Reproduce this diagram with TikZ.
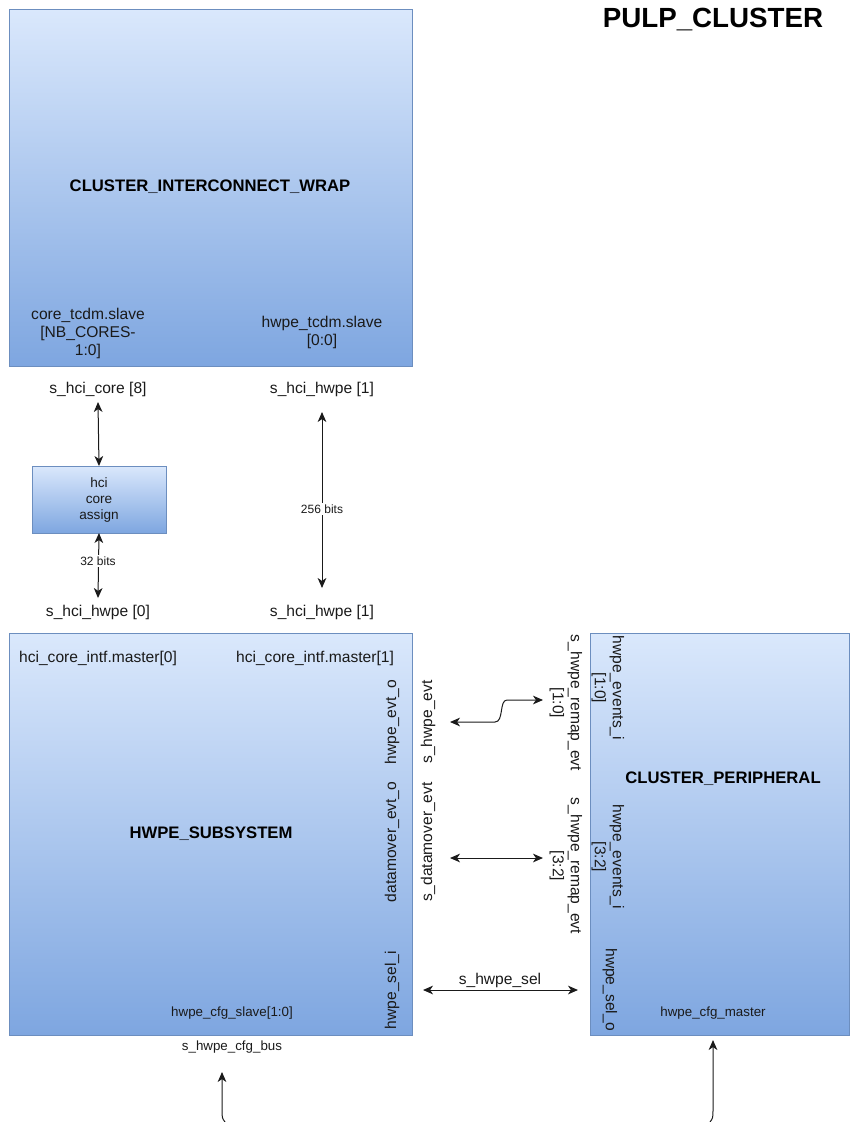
\documentclass[tikz,border=0pt]{standalone}
\usepackage{fontspec}
\setmainfont{Liberation Sans}
\usetikzlibrary{arrows.meta,calc,fit}
\definecolor{gtop}{HTML}{DAE8FC}
\definecolor{gbot}{HTML}{7EA6E0}
\definecolor{bdr}{HTML}{6C8EBF}
\definecolor{ink}{HTML}{1A1A1A}
\begin{document}
\begin{tikzpicture}[x=0.75pt,y=-0.75pt,
  blk/.style={draw=bdr, line width=0.75pt, top color=gtop, bottom color=gbot, inner sep=0pt, outer sep=0pt, rectangle},
  lbl/.style={font=\fontsize{11.7}{13.5}\selectfont, text=ink, align=center, inner sep=2pt},
  sml/.style={font=\fontsize{10}{12}\selectfont, text=ink, align=center, inner sep=2pt},
  tiny/.style={font=\fontsize{9}{11}\selectfont, text=ink, align=center, inner sep=1pt, fill=white},
  bold/.style={font=\fontsize{12.5}{15}\selectfont\bfseries, text=black, align=center, inner sep=2pt},
  ttl/.style={font=\fontsize{20.8}{24}\selectfont\bfseries, text=black, inner sep=2pt},
  up/.style={rotate=90},
  dn/.style={rotate=-90},
  tip/.tip={Stealth[length=7.5pt,width=6.5pt,inset=2.2pt]},
  arr/.style={tip-tip, line width=0.75pt, draw=ink},
  arr1/.style={-tip, line width=0.75pt, draw=ink}
]
\useasboundingbox (0,0) rectangle (850,1122);

% blocks
\node[blk, fit={(9,9) (412,366)}] (icw) {};
\node[blk, fit={(32,466) (166,533)}] (hca) {};
\node[font=\fontsize{10.2}{12}\selectfont, text=ink, align=center, inner sep=1pt] (hcat) at (99,500) {hci\\core\\assign};
\node[blk, fit={(9,633) (412,1035)}] (hwpe) {};
\node[blk, fit={(590,633) (849,1035)}] (cp) {};

% titles
\node[ttl] (title) at (713,20) {PULP\_CLUSTER};
\node[bold] (icwl) at (210,187) {CLUSTER\_INTERCONNECT\_WRAP};
\node[bold] (hwpel) at (211,834) {HWPE\_SUBSYSTEM};
\node[bold] (cpl) at (723,779) {CLUSTER\_PERIPHERAL};

% interconnect ports
\node[lbl] (ctdm) at (88,333) {core\_tcdm.slave\\{}[NB\_CORES-\\1:0]};
\node[lbl] (htdm) at (322,332) {hwpe\_tcdm.slave\\{}[0:0]};

% signals
\node[lbl] (shc) at (98,389) {s\_hci\_core [8]};
\node[lbl] (shh1) at (322,389) {s\_hci\_hwpe [1]};
\node[lbl] (shh0) at (98,612) {s\_hci\_hwpe [0]};
\node[lbl] (shh1b) at (322,612) {s\_hci\_hwpe [1]};

% hwpe ports
\node[lbl] (m0) at (98,658) {hci\_core\_intf.master[0]};
\node[lbl] (m1) at (315,658) {hci\_core\_intf.master[1]};
\node[lbl, up] (heo) at (392,722) {hwpe\_evt\_o};
\node[lbl, up] (deo) at (392,842) {datamover\_evt\_o};
\node[lbl, up] (hsi) at (392,990) {hwpe\_sel\_i};
\node[sml] (cfgs) at (232,1013) {hwpe\_cfg\_slave[1:0]};
\node[sml] (bus) at (232,1047) {s\_hwpe\_cfg\_bus};

% middle signals
\node[lbl, up] (sevt) at (428,722) {s\_hwpe\_evt};
\node[lbl, up] (sdm) at (428,842) {s\_datamover\_evt};
\node[lbl, dn] (remap1) at (566,703) {s\_hwpe\_remap\_evt\\{}[1:0]};
\node[lbl, dn] (remap2) at (566,866) {s\_hwpe\_remap\_evt\\{}[3:2]};
\node[lbl] (ssel) at (500,980) {s\_hwpe\_sel};

% peripheral ports
\node[lbl, dn] (ev1) at (608,688) {hwpe\_events\_i\\{}[1:0]};
\node[lbl, dn] (ev2) at (608,857) {hwpe\_events\_i\\{}[3:2]};
\node[lbl, dn] (hso) at (610,990) {hwpe\_sel\_o};
\node[sml] (cfgm) at (713,1013) {hwpe\_cfg\_master};

% connectors
\draw[arr] ($(shc)+(0,13)$) -- (hca.north);
\draw[arr] (hca.south) -- ($(shh0)+(0,-14)$);
\node[tiny] (b32) at (98,561) {32 bits};
\draw[arr] ($(shh1)+(0,23)$) -- ($(shh1b)+(0,-24)$);
\node[tiny] (b256) at (322,509) {256 bits};

\draw[arr] ($(sevt)+(22,0)$) -- ++(45,0) .. controls +(9,0) and +(-8,0) .. ++(12,-22) -- ($(remap1)+(-23,-3)$);
\draw[arr] ($(sdm)+(22,16)$) -- ($(remap2)+(-23,-8)$);
\draw[arr] ($(hsi)+(31,0)$) -- ($(hso)+(-32,0)$);

\coordinate (bl) at (225,1122);
\coordinate (br) at (710,1122);
\draw[arr1] (bl) .. controls (222,1118) .. (222,1108) -- ($(bus)+(-10,25)$);
\draw[arr1] (br) .. controls (713,1118) .. (713,1108) -- ($(cfgm)+(0,27)$);
\end{tikzpicture}
\end{document}
